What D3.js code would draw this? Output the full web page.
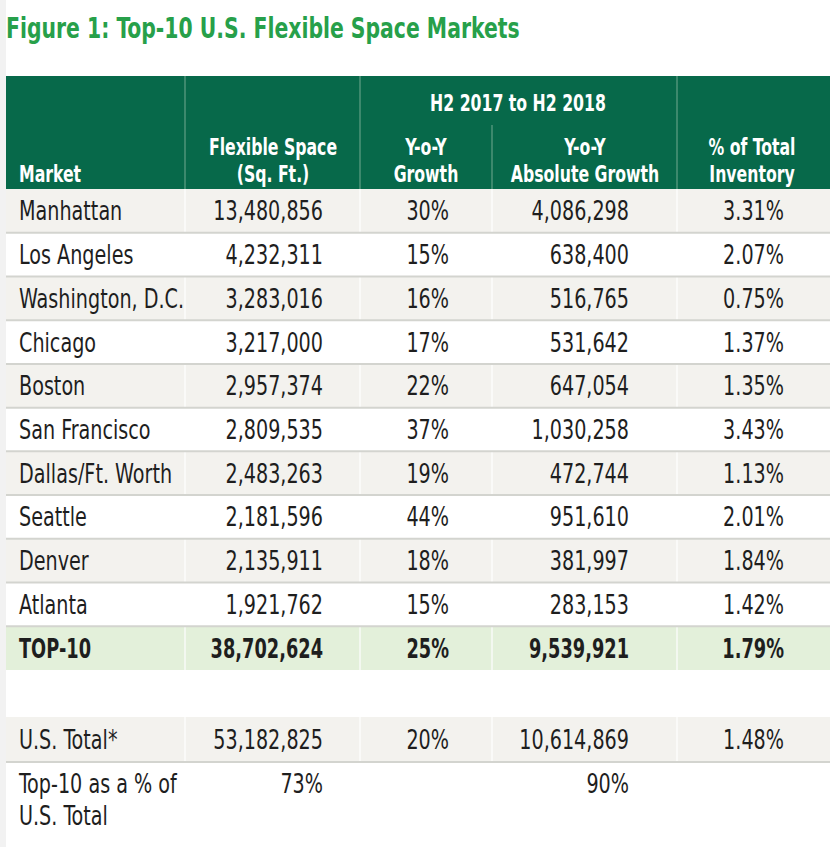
<!DOCTYPE html>
<html><head><meta charset="utf-8">
<script src="https://cdn.jsdelivr.net/npm/d3@7"></script>
<style>
html,body{margin:0;padding:0;background:#fff;}
svg{display:block;}
text{font-family:"DejaVu Sans Condensed","Liberation Sans Narrow",sans-serif;}
</style></head>
<body>
<svg id="chart" width="830" height="847"></svg>
<script>
// ---- data ----
const title = "Figure 1: Top-10 U.S. Flexible Space Markets";
const markets = ["Manhattan","Los Angeles","Washington, D.C.","Chicago","Boston","San Francisco","Dallas/Ft. Worth","Seattle","Denver","Atlanta"];
const flexSpace = [13480856,4232311,3283016,3217000,2957374,2809535,2483263,2181596,2135911,1921762];
const yoyGrowth = [30,15,16,17,22,37,19,44,18,15];
const absGrowth = [4086298,638400,516765,531642,647054,1030258,472744,951610,381997,283153];
const pctInventory = [3.31,2.07,0.75,1.37,1.35,3.43,1.13,2.01,1.84,1.42];
const top10Row = ["TOP-10",38702624,25,9539921,1.79];
const usTotalRow = ["U.S. Total*",53182825,20,10614869,1.48];
const shareRow = [["Top-10 as a % of","U.S. Total"],73,null,90,null];
const headerGroup = "H2 2017 to H2 2018";
const headerLabels = [["Market"],["Flexible Space","(Sq. Ft.)"],["Y-o-Y","Growth"],["Y-o-Y","Absolute Growth"],["% of Total","Inventory"]];

// ---- layout ----
const svg = d3.select("#chart");
const fmtInt = d3.format(",");
const fmtPctInt = v => v + "%";
const fmtPct2 = v => d3.format(".2f")(v) + "%";
const formatters = [v=>v, fmtInt, fmtPctInt, fmtInt, fmtPct2];

const tableLeft = 6, tableRight = 830;
const colEdges = [tableLeft,185,360,492,677,tableRight];
const colAnchor = [19,323,449,629,784];
const colAlign = ["start","end","end","end","end"];
const colCenters = [null,273,426,585,752];

const SX_REG = 0.82, SX_BOLD = 0.76;

function addText(parent, x, y, str, o){
  const g = parent.append("g").attr("transform",`translate(${x},${y}) scale(${o.sx},1)`);
  g.append("text").attr("x",0).attr("y",0)
    .attr("text-anchor",o.anchor||"start")
    .attr("font-size",o.size).attr("font-weight",o.weight||"normal")
    .attr("fill",o.fill||"#1e1e1e").text(str);
  return g;
}

const headerTop = 76, headerBottom = 189;
const bodyKeys = markets.concat(["TOP-10"]);
const y = d3.scaleBand().domain(bodyKeys).range([headerBottom, 670]);
const rowH = y.bandwidth();

svg.append("rect").attr("x",0).attr("y",0).attr("width",tableLeft).attr("height",847).attr("fill","#f2f2f2");

// title
addText(svg, 6, 38, title, {size:28.5, weight:"bold", fill:"#27a04a", sx:0.795});

// header
svg.append("rect").attr("x",tableLeft).attr("y",headerTop).attr("width",tableRight-tableLeft).attr("height",headerBottom-headerTop).attr("fill","#07694a");
[1,2,4].forEach(i=>{
  svg.append("line").attr("x1",colEdges[i]).attr("x2",colEdges[i]).attr("y1",headerTop).attr("y2",headerBottom)
    .attr("stroke","#4f957a").attr("stroke-width",1.5);
});
svg.append("line").attr("x1",colEdges[3]).attr("x2",colEdges[3]).attr("y1",125).attr("y2",headerBottom)
  .attr("stroke","#4f957a").attr("stroke-width",1.5);
addText(svg, 518, 111, headerGroup, {size:23, weight:"bold", fill:"#fff", anchor:"middle", sx:SX_BOLD});
headerLabels.forEach((lines,i)=>{
  const x = i===0 ? colAnchor[0] : colCenters[i];
  const base = 182 - (lines.length-1)*27;
  lines.forEach((l,k)=>addText(svg, x, base+k*27, l, {size:23, weight:"bold", fill:"#fff", anchor: i===0?"start":"middle", sx:SX_BOLD}));
});

// body rows
const rows = markets.map((m,i)=>[m,flexSpace[i],yoyGrowth[i],absGrowth[i],pctInventory[i]]);
rows.push(top10Row);
const rowFill = (i)=> i===10 ? "#e3f0da" : (i%2===0 ? "#f3f2ee" : "#ffffff");

const g = svg.append("g");
rows.forEach((r,i)=>{
  g.append("rect").attr("x",tableLeft).attr("y",y(bodyKeys[i])).attr("width",tableRight-tableLeft).attr("height",rowH).attr("fill",rowFill(i));
});
[1,2,3,4].forEach(i=>{
  g.append("line").attr("x1",colEdges[i]).attr("x2",colEdges[i]).attr("y1",headerBottom).attr("y2",670)
    .attr("stroke","#ffffff").attr("stroke-width",1.5).attr("opacity",0.8);
});
rows.forEach((r,i)=>{
  const y0 = y(bodyKeys[i]);
  if(i>0) g.append("line").attr("x1",tableLeft).attr("x2",tableRight).attr("y1",y0).attr("y2",y0)
    .attr("stroke","#d3d4cf").attr("stroke-width",2);
});
rows.forEach((r,i)=>{
  const yc = y(bodyKeys[i]) + rowH/2;
  const bold = i===10;
  r.forEach((v,c)=>{
    addText(g, colAnchor[c], yc+9.5, formatters[c](v), {size:26, weight: bold?"bold":"normal", anchor:colAlign[c], sx: bold?SX_BOLD:SX_REG});
  });
});

// U.S. total row
const usTop = 717, usBottom = 762;
svg.append("rect").attr("x",tableLeft).attr("y",usTop).attr("width",tableRight-tableLeft).attr("height",usBottom-usTop).attr("fill","#f3f2ee");
[1,2,3,4].forEach(i=>{
  svg.append("line").attr("x1",colEdges[i]).attr("x2",colEdges[i]).attr("y1",usTop).attr("y2",usBottom)
    .attr("stroke","#ffffff").attr("stroke-width",1.5).attr("opacity",0.8);
});
svg.append("line").attr("x1",tableLeft).attr("x2",tableRight).attr("y1",usBottom).attr("y2",usBottom)
  .attr("stroke","#d3d4cf").attr("stroke-width",2);
usTotalRow.forEach((v,c)=>{
  addText(svg, colAnchor[c], (usTop+usBottom)/2+9.5, formatters[c](v), {size:26, anchor:colAlign[c], sx:SX_REG});
});
// share row
shareRow.forEach((v,c)=>{
  if(v===null) return;
  if(Array.isArray(v)){
    v.forEach((l,k)=>addText(svg, colAnchor[c], 793+k*32, l, {size:26, anchor:colAlign[c], sx:SX_REG}));
  } else {
    addText(svg, colAnchor[c], 793, fmtPctInt(v), {size:26, anchor:colAlign[c], sx:SX_REG});
  }
});
</script>
</body></html>
